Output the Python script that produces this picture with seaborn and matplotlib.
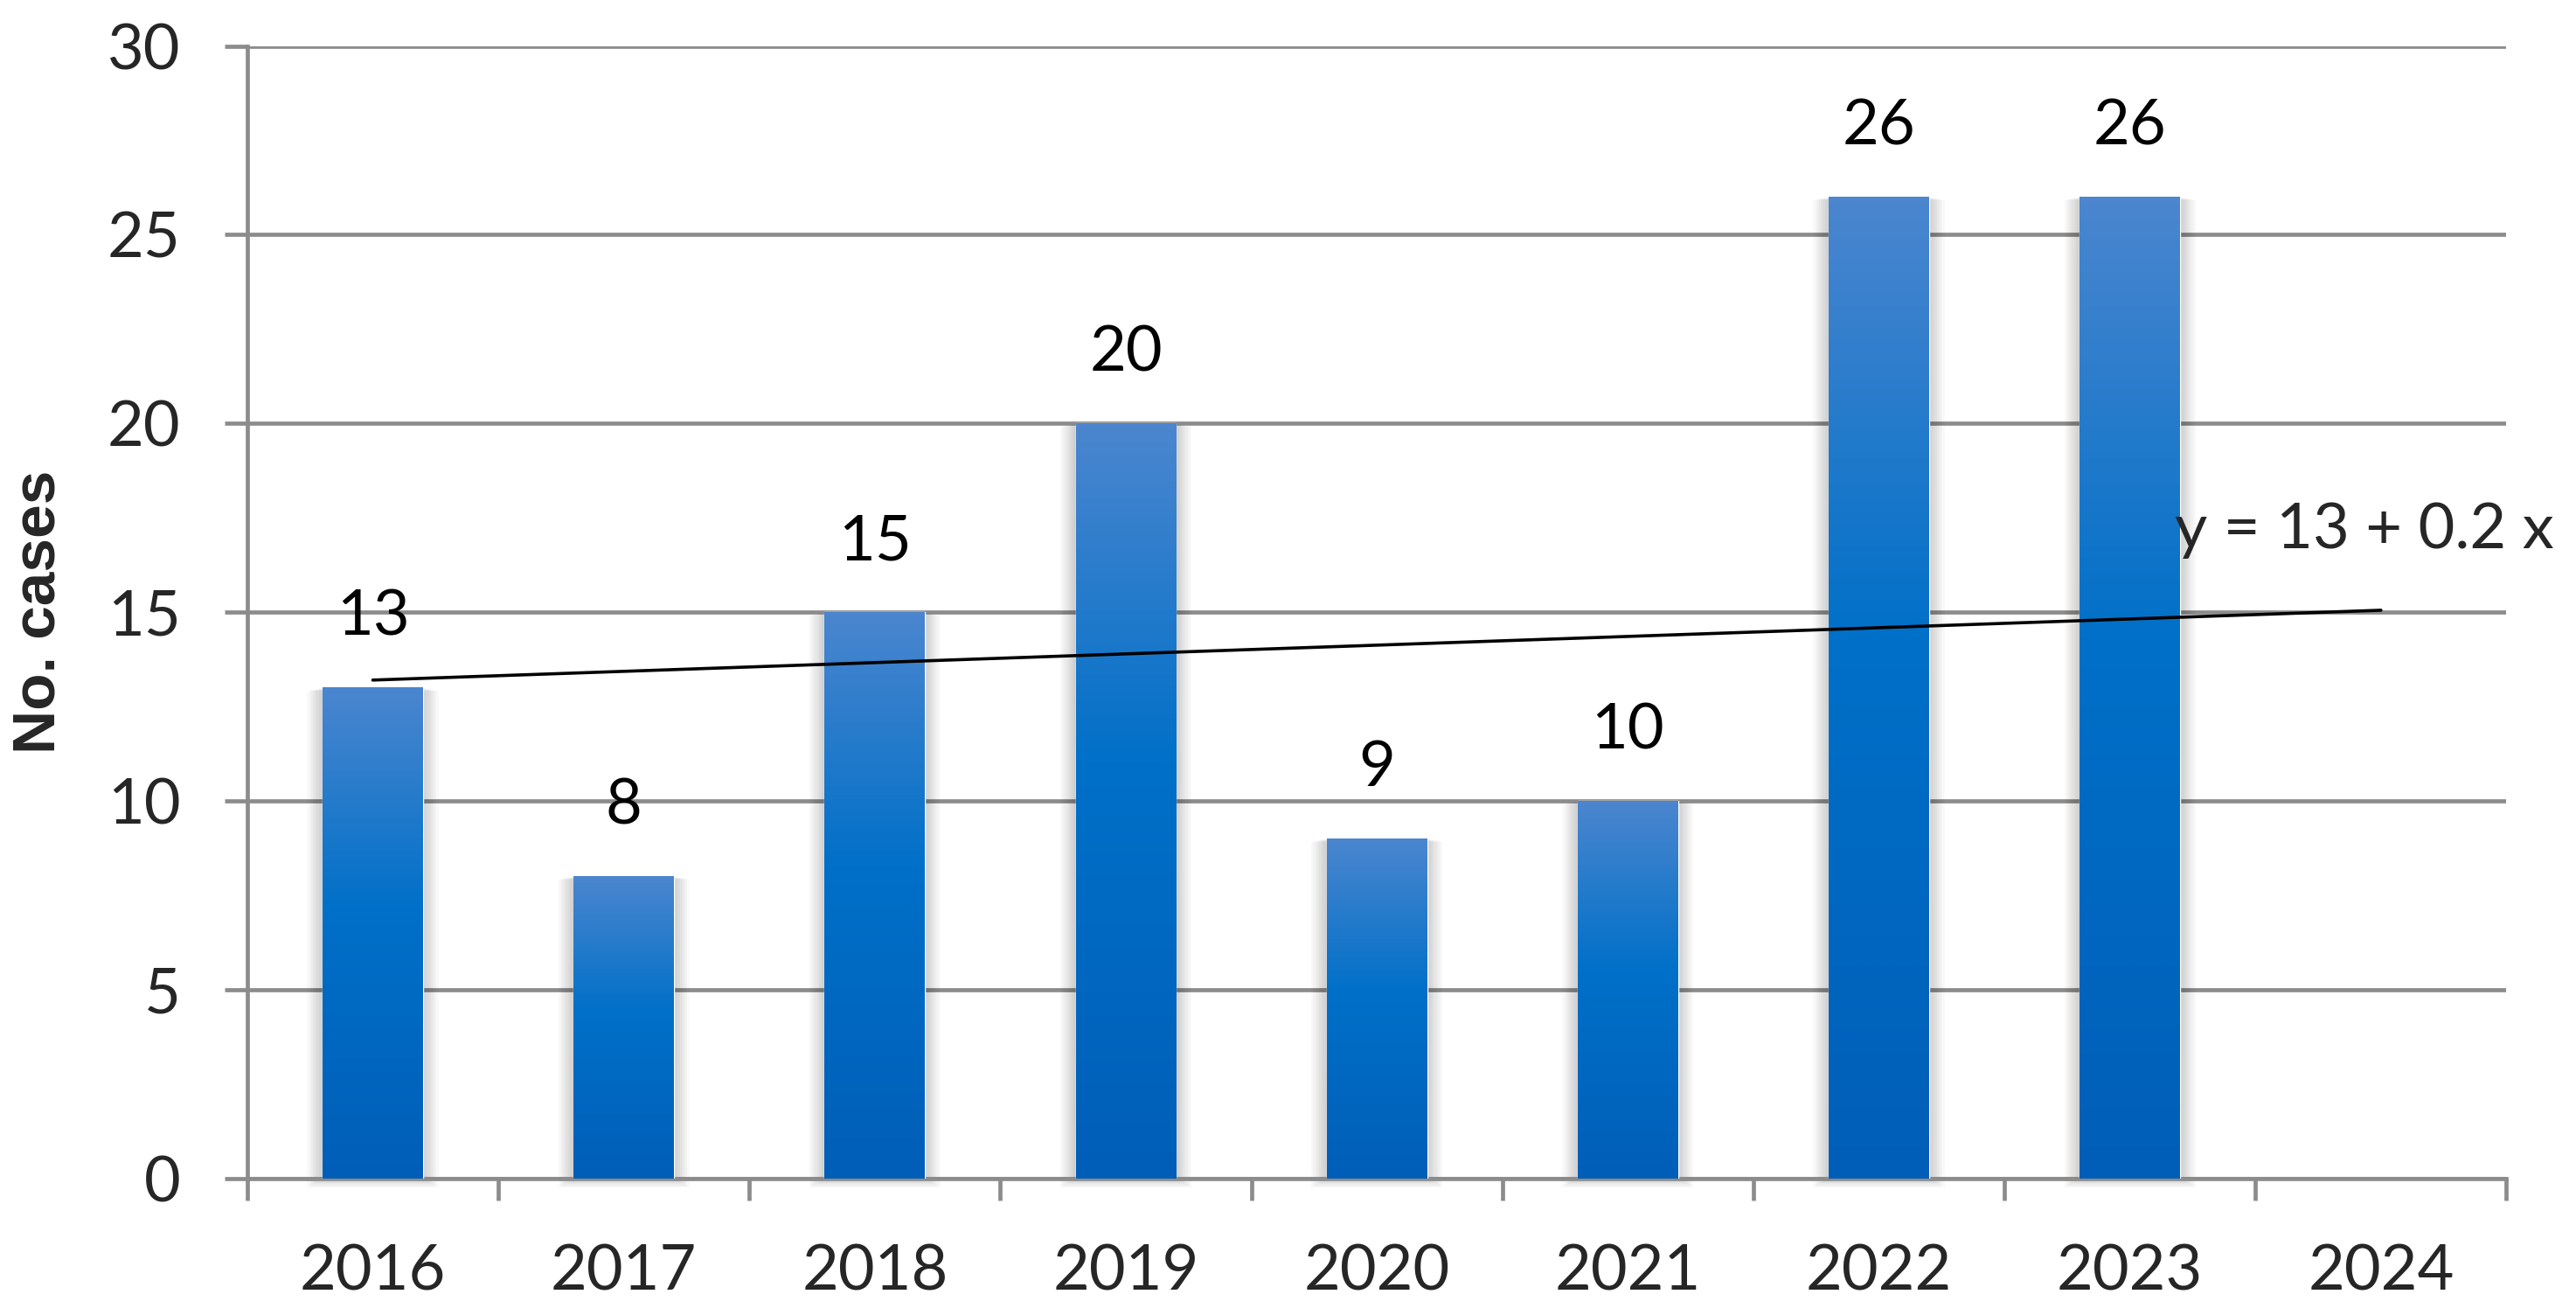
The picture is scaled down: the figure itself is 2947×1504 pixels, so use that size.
import numpy as np
import pandas as pd
import matplotlib
matplotlib.use('Agg')
import matplotlib.pyplot as plt
from matplotlib.colors import LinearSegmentedColormap
from matplotlib.patches import Rectangle
import seaborn as sns

# Données
years = ['2016', '2017', '2018', '2019', '2020', '2021', '2022', '2023', '2024']
cases = [13, 8, 15, 20, 9, 10, 26, 26]
trend_years = ['2016', '2024']
trend_values = [13.2, 15.05]
trend_label = 'y = 13 + 0.2 x'
y_ticks = [0, 5, 10, 15, 20, 25, 30]

df = pd.DataFrame({'year': years[:len(cases)], 'cases': cases})

sns.set_style('white')
plt.rcParams['font.family'] = ['Lato', 'DejaVu Sans']

grid_col = '#8C8C8C'
fig = plt.figure(figsize=(29.47, 15.04), dpi=100)
ax = fig.add_axes([0.096, 0.104, 0.877, 0.861])

sns.barplot(data=df, x='year', y='cases', order=years, width=0.4,
            color='#0070C8', ax=ax, zorder=3)

ax.set_ylim(0, 30)
ax.set_xlim(-0.5, len(years) - 0.5)

# Dégradé + ombre des barres
cmap = LinearSegmentedColormap.from_list(
    'bar', [(0, '#005EB8'), (0.55, '#0070C8'), (1, '#4B86CF')])
grad = np.linspace(0, 1, 256).reshape(-1, 1)
px_x = 1 / 287.2
px_y = 30 / 1295
for p in list(ax.patches):
    x, w, h = p.get_x(), p.get_width(), p.get_height()
    if not np.isfinite(h) or h <= 0:
        continue
    for i in range(1, 9):
        s = i * 2.2
        ax.add_patch(Rectangle((x - s * px_x, -s * 0.6 * px_y), w + 2 * s * px_x,
                               h + s * 0.4 * px_y, facecolor='black', alpha=0.025,
                               edgecolor='none', zorder=2, clip_on=False))
    ax.imshow(grad, cmap=cmap, origin='lower', aspect='auto',
              extent=[x, x + w, 0, h], zorder=3.5, interpolation='bicubic')
    p.set_facecolor('none')

ax.set_ylim(0, 30)
ax.set_xlim(-0.5, len(years) - 0.5)

# Étiquettes de valeurs
for i, v in enumerate(cases):
    ax.annotate(str(v), (i, v), xytext=(0, 43), textcoords='offset points',
                ha='center', va='baseline', fontsize=52, color='black', zorder=6)

# Courbe de tendance
tx = [years.index(t) for t in trend_years]
ax.plot(tx, trend_values, color='black', lw=2.6, zorder=5)
ax.text(7.18, 16.7, trend_label, fontsize=52, ha='left', va='baseline',
        clip_on=False, zorder=6)

# Axes et grille
ax.set_yticks(y_ticks)
ax.yaxis.grid(True, color=grid_col, lw=3.4, zorder=0)
ax.xaxis.grid(False)
for s in ['top', 'right']:
    ax.spines[s].set_visible(False)
for s in ['left', 'bottom']:
    ax.spines[s].set_color(grid_col)
    ax.spines[s].set_linewidth(3.4)
ax.tick_params(axis='y', left=True, length=19, width=3.4, color=grid_col,
               pad=36, labelsize=52)
ax.set_xticks(range(len(years)))
ax.set_xticklabels(years)
ax.set_xticks(np.arange(-0.5, len(years), 1), minor=True)
ax.tick_params(axis='x', which='major', length=0, pad=54, labelsize=52)
ax.tick_params(axis='x', which='minor', bottom=True, length=18, width=3.4,
               color=grid_col)
ax.set_xlabel('')
ax.set_ylabel('No. cases', fontsize=50, fontweight='bold',
              family='Liberation Sans', labelpad=40)
ax.yaxis.set_label_coords(-0.08, 0.5)

fig.savefig('out.png', dpi=100, facecolor='white')
